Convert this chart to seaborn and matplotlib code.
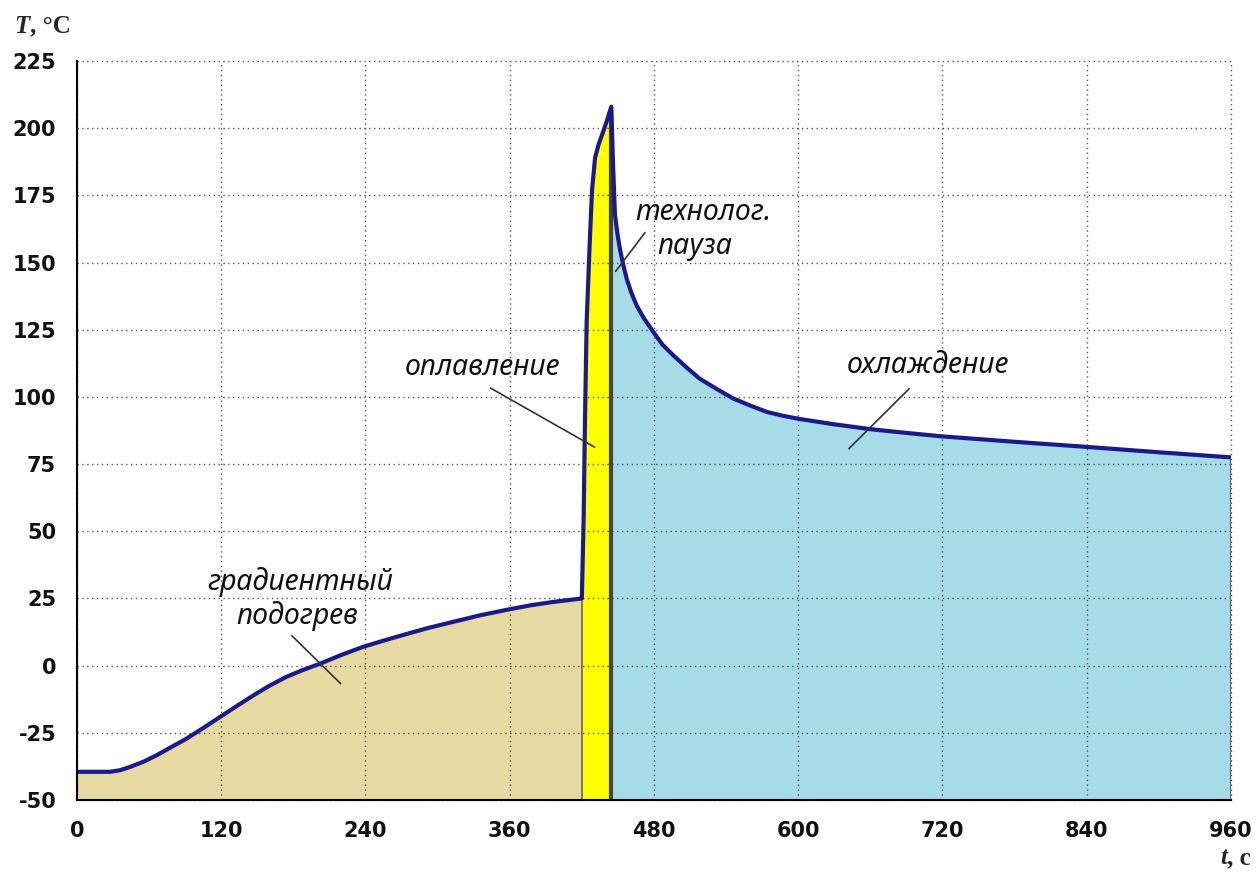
import pandas as pd
import matplotlib
matplotlib.use('Agg')
import matplotlib.pyplot as plt
import seaborn as sns

# градиентный подогрев
t_heat = [0, 27.5, 36, 44, 55, 66, 78, 91, 105, 119, 133, 147, 160, 174, 188,
          202, 220, 238, 255, 272, 292, 313, 336, 360, 378, 396, 420]
T_heat = [-39.5, -39.5, -38.9, -37.7, -35.8, -33.4, -30.4, -27.2, -23.2, -19.1, -15, -11, -7.5, -4.2, -1.6,
          0.7, 4.0, 7.0, 9.3, 11.5, 14, 16.3, 18.8, 21, 22.5, 23.7, 25]
# оплавление
t_melt = [420, 421.5, 422.6, 424, 426.7, 428.5, 431, 434, 438, 441, 444.5]
T_melt = [25, 55, 91, 128, 159, 177, 189, 194, 199, 203, 208]
# технолог. пауза + охлаждение
t_cool = [444.5, 446, 447.5, 449.5, 451.7, 454.5, 457.3, 461, 465.6, 472, 479.4, 487, 496, 507, 518,
          532, 546, 560, 574, 587, 601, 630, 660, 690, 720, 780, 840, 900, 960]
T_cool = [208, 186, 168, 161, 155, 149, 144, 139, 134, 129, 124.2, 119.5, 115.5, 111, 106.8,
          103, 99.4, 96.8, 94.4, 93, 91.8, 89.8, 88, 86.6, 85.3, 83.3, 81.4, 79.4, 77.5]

x_ticks = [0, 120, 240, 360, 480, 600, 720, 840, 960]
y_ticks = [-50, -25, 0, 25, 50, 75, 100, 125, 150, 175, 200, 225]

sns.set_theme(style='white')
plt.rcParams['font.family'] = ['DejaVu Sans']
plt.rcParams['axes.unicode_minus'] = False

df = pd.DataFrame({
    't': t_heat + t_melt[1:] + t_cool[1:],
    'T': T_heat + T_melt[1:] + T_cool[1:],
})

fig = plt.figure(figsize=(12.58, 8.75), dpi=100)
ax = fig.add_axes([0.0612, 0.0857, 0.9173, 0.8446])

y0 = y_ticks[0]
ax.fill_between(t_heat, T_heat, y0, color='#e6d9a2', lw=0, zorder=1)
ax.fill_between(t_melt, T_melt, y0, color='#ffff00', lw=0, zorder=1)
ax.fill_between(t_cool, T_cool, y0, color='#a6dbe8', lw=0, zorder=1)
ax.vlines(t_heat[-1], y0, T_heat[-1], color='#666666', lw=1.2, zorder=3)
ax.vlines(t_melt[-1], y0, T_melt[-1], color='#444444', lw=3, zorder=3)
ax.vlines(t_cool[-1], y0, T_cool[-1], color='#666666', lw=1.5, zorder=3)

sns.lineplot(data=df, x='t', y='T', ax=ax, color='#1a1a8a', lw=3,
             estimator=None, sort=False, zorder=5)

ax.set_xlim(x_ticks[0], x_ticks[-1])
ax.set_ylim(y_ticks[0], y_ticks[-1])
ax.set_xticks(x_ticks)
ax.set_yticks(y_ticks)
ax.set_xlabel('')
ax.set_ylabel('')
ax.set_axisbelow(False)
ax.grid(True, color='#555555', lw=1, linestyle=(0, (1, 2.5)), zorder=2)
for gl in ax.get_xgridlines() + ax.get_ygridlines():
    gl.set_clip_on(False)

for s in ['top', 'right']:
    ax.spines[s].set_visible(False)
for s in ['left', 'bottom']:
    ax.spines[s].set_color('black')
    ax.spines[s].set_linewidth(1.5)
    ax.spines[s].set_zorder(6)

ax.tick_params(axis='both', direction='out', length=6, width=1.5, color='black',
               labelsize=15, pad=9)
for lab in ax.get_xticklabels() + ax.get_yticklabels():
    lab.set_fontweight('bold')
    lab.set_color('#111111')

tk = dict(fontsize=20.5, style='italic', family=['Noto Sans', 'DejaVu Sans'],
          color='#111111', ha='center', va='center', zorder=7)
ln = dict(arrowstyle='-', color='#333333', lw=1.2)

ax.text(186, 31, 'градиентный', **tk)
ax.text(183, 18.6, 'подогрев', **tk)
ax.annotate('', xy=(221, -7.4), xytext=(177, 11.9), arrowprops=ln, zorder=7)

ax.text(338, 111, 'оплавление', **tk)
ax.annotate('', xy=(432.6, 80.8), xytext=(342, 103.8), arrowprops=ln, zorder=7)

ax.text(521, 168.6, 'технолог.', **tk)
ax.text(514, 156, 'пауза', **tk)
ax.annotate('', xy=(446.7, 145.9), xytext=(474, 162), arrowprops=ln, zorder=7)

ax.text(708, 111.6, 'охлаждение', **tk)
ax.annotate('', xy=(640.5, 80), xytext=(694, 103.8), arrowprops=ln, zorder=7)

fig.text(0.011, 0.970, 'T', fontsize=18, fontweight='bold', style='italic',
         family='Liberation Serif', ha='left', va='center')
fig.text(0.0235, 0.970, ', °C', fontsize=18, fontweight='bold',
         family='Liberation Serif', ha='left', va='center')
fig.text(0.970, 0.020, 't', fontsize=18, fontweight='bold', style='italic',
         family='Liberation Serif', ha='left', va='center')
fig.text(0.9755, 0.020, ', c', fontsize=18, fontweight='bold',
         family='Liberation Serif', ha='left', va='center')

fig.savefig('out.png', dpi=100)
